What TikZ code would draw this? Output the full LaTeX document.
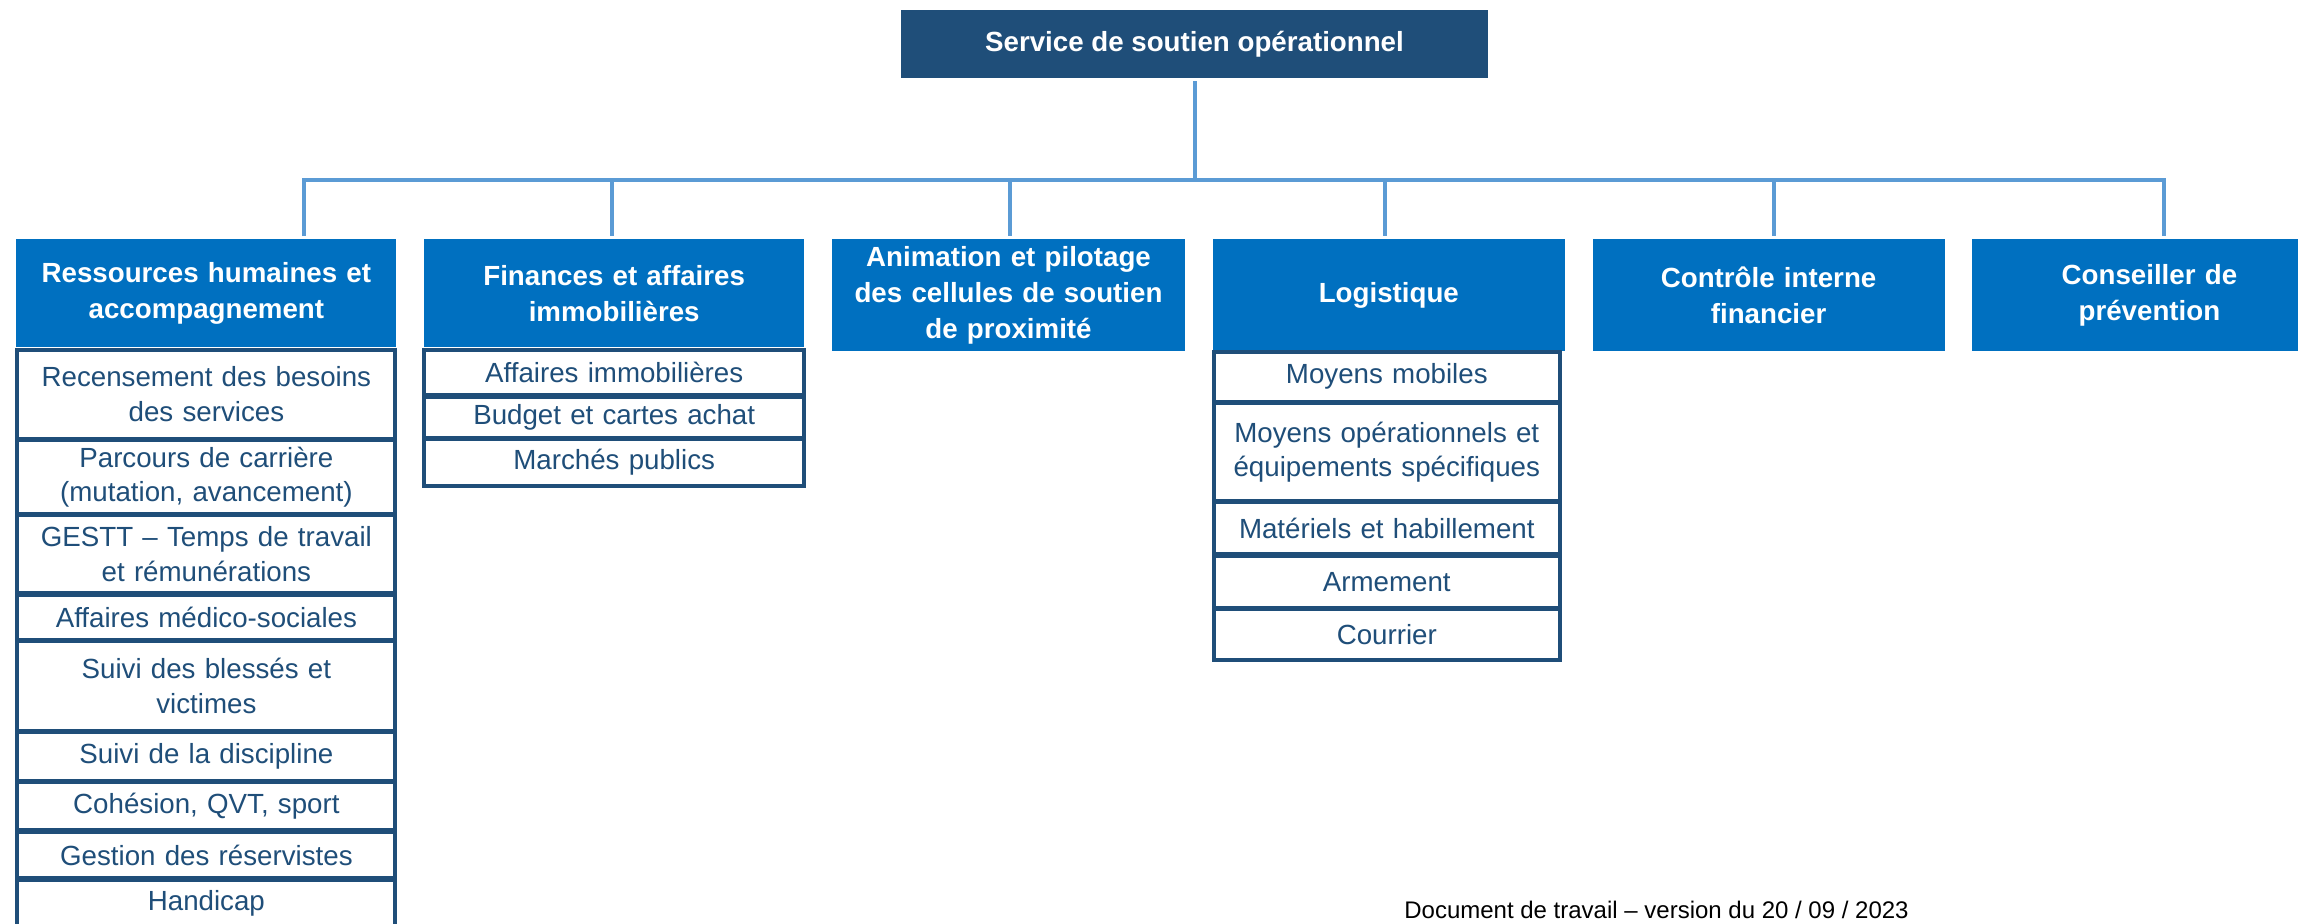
\documentclass[tikz,border=0pt]{standalone}
\usepackage{fontspec}
\setmainfont{Liberation Sans}
\usepackage{xcolor}
\definecolor{chefblue}{HTML}{1F4E79}
\definecolor{poleblue}{HTML}{0070C0}
\definecolor{linkblue}{HTML}{5B9BD5}
\newcommand{\normtxt}{\fontsize{13.85}{17.2}\selectfont}
\newcommand{\boldtxt}{\fontsize{13.85}{17.9}\selectfont\bfseries}
\usetikzlibrary{matrix,positioning}

\begin{document}
\begin{tikzpicture}[x=0.5pt, y=-0.5pt,
    chef/.style={fill=chefblue, text=white, font=\boldtxt, inner sep=0pt,
      minimum width=293.5pt, minimum height=34pt},
    pole/.style={fill=poleblue, text=white, font=\boldtxt, align=center,
      inner sep=0pt, minimum height=56pt, anchor=north west},
    sub/.style={draw=chefblue, line width=2pt, fill=white, text=chefblue,
      font=\normtxt, align=center, inner xsep=2pt, inner ysep=1pt, anchor=center},
    sublist/.style={matrix of nodes, inner sep=0pt, outer sep=0pt,
      row sep=-1.25pt, nodes={sub, text width=#1}},
    link/.style={draw=linkblue, line width=2pt}]
    \useasboundingbox (0,0) rectangle (2298,923);
    \clip (0,0) rectangle (2298,923);

    \node[chef] (top) at (1194.5,44) {Service de soutien opérationnel};

    \node[pole, text width=190pt, minimum height=54pt] (rh) at (16,239)
      {Ressources humaines et\\accompagnement};
    \node[pole, text width=190pt, minimum height=54pt, right=13.5pt of rh.north east, anchor=north west] (fin)
      {Finances et affaires\\immobilières};
    \node[pole, text width=176.5pt, right=13.5pt of fin.north east, anchor=north west] (anim)
      {Animation et pilotage\\des cellules de soutien\\de proximité};
    \node[pole, text width=176pt, right=13.5pt of anim.north east, anchor=north west] (log)
      {Logistique};
    \node[pole, text width=176pt, right=13.5pt of log.north east, anchor=north west] (ci)
      {Contrôle interne\\financier};
    \node[pole, text width=177pt, right=13.5pt of ci.north east, anchor=north west] (cp)
      {Conseiller de\\prévention};

    \matrix (rhlist) [sublist=185pt, below=0pt of rh,
    row 1/.style={nodes={minimum height=44.4pt}},
    row 2/.style={nodes={minimum height=36.9pt}},
    row 3/.style={nodes={minimum height=38.85pt}},
    row 4/.style={nodes={minimum height=22.6pt}},
    row 5/.style={nodes={minimum height=44.8pt}},
    row 6/.style={nodes={minimum height=24.1pt}},
    row 7/.style={nodes={minimum height=24pt}},
    row 8/.style={nodes={minimum height=23.4pt}},
    row 9/.style={nodes={minimum height=23.5pt}},]
    {
      {Recensement des besoins\\des services} \\
      {Parcours de carrière\\(mutation, avancement)} \\
      {GESTT -- Temps de travail\\et rémunérations} \\
      Affaires médico-sociales \\
      {Suivi des blessés et\\victimes} \\
      Suivi de la discipline \\
      {Cohésion, QVT, sport} \\
      Gestion des réservistes \\
      Handicap \\
    };

    \matrix (finlist) [sublist=186pt, below=0pt of fin,
    row 1/.style={nodes={minimum height=22.6pt}},
    row 2/.style={nodes={minimum height=20.5pt}},
    row 3/.style={nodes={minimum height=23.6pt}},]
    {
      Affaires immobilières \\
      Budget et cartes achat \\
      Marchés publics \\
    };

    \matrix (loglist) [sublist=169pt, below=-1pt of log, xshift=-1pt,
    row 1/.style={nodes={minimum height=25pt}},
    row 2/.style={nodes={minimum height=48.6pt}},
    row 3/.style={nodes={minimum height=26.1pt}},
    row 4/.style={nodes={minimum height=26.1pt}},
    row 5/.style={nodes={minimum height=25.4pt}},]
    {
      Moyens mobiles \\
      {Moyens opérationnels et\\équipements spécifiques} \\
      Matériels et habillement \\
      Armement \\
      Courrier \\
    };

    % bus
    \foreach \n/\x in {rh/304, fin/612, anim/1010, log/1385, ci/1774, cp/2164}
      \coordinate (j-\n) at (\x,180);
    \draw[link, shorten <=1.5pt] (top.south) -- (top.south |- j-rh);
    \draw[link, shorten <=1.5pt, shorten >=1.5pt]
      (j-rh |- rh.north) -- (j-rh) -- (j-cp) -- (j-cp |- cp.north);
    \foreach \n in {fin, anim, log, ci}
      \draw[link, shorten >=1.5pt] (j-\n) -- (j-\n |- \n.north);

    \node[font=\fontsize{12}{14}\selectfont] (stamp) at (1656.5,910)
      {Document de travail -- version du 20 / 09 / 2023};
  \end{tikzpicture}
\end{document}
